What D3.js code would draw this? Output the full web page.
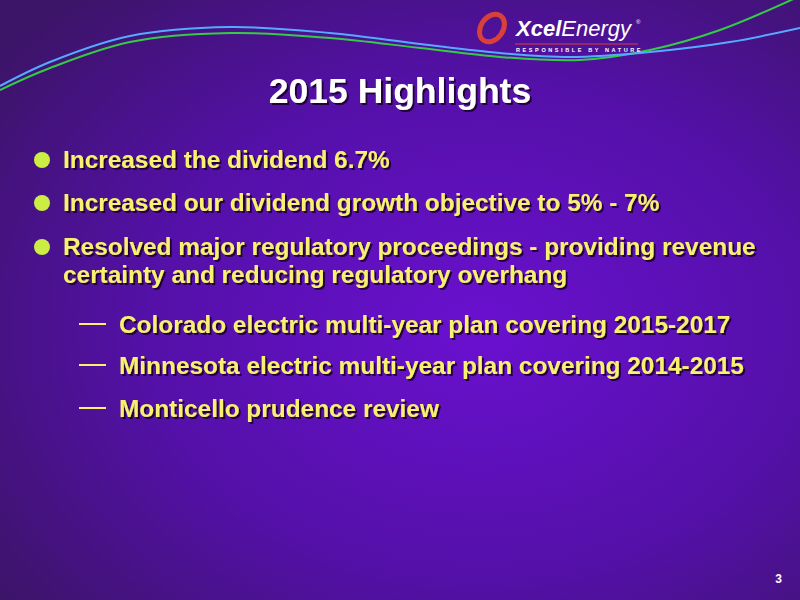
<!DOCTYPE html><html><head><meta charset="utf-8"><script src="https://cdn.jsdelivr.net/npm/d3@7"></script>
<style>body{margin:0}svg{display:block}</style></head><body><script>
const title = "2015 Highlights";
const bullets = ["Increased the dividend 6.7%","Increased our dividend growth objective to 5% - 7%","Resolved major regulatory proceedings - providing revenue","certainty and reducing regulatory overhang"];
const bulletLevel = [1,1,1,0];
const subs = ["Colorado electric multi-year plan covering 2015-2017","Minnesota electric multi-year plan covering 2014-2015","Monticello prudence review"];
const bluePts = [[0,86],[50,62],[130,36],[230,27],[330,33],[420,44],[500,53],[570,57],[650,52],[730,42],[800,28]];
const greenPts = [[0,90],[50,68],[130,42],[230,33],[330,38],[420,48],[500,57],[580,60],[650,50],[720,30],[800,-4]];
const W=800,H=600;
const svg=d3.select("body").append("svg").attr("width",W).attr("height",H);
const defs=svg.append("defs");
const g=defs.append("radialGradient").attr("id","bg").attr("cx","60%").attr("cy","55%").attr("r","75%");
g.append("stop").attr("offset","0%").attr("stop-color","#6a10d0");
g.append("stop").attr("offset","55%").attr("stop-color","#5410a8");
g.append("stop").attr("offset","100%").attr("stop-color","#3c1468");
svg.append("rect").attr("width",W).attr("height",H).attr("fill","url(#bg)");
const f=defs.append("filter").attr("id","sh");
f.append("feDropShadow").attr("dx",2).attr("dy",2).attr("stdDeviation",0.6).attr("flood-color","#1a0530").attr("flood-opacity",0.9);
const x=d3.scaleLinear().domain([0,800]).range([0,W]), y=d3.scaleLinear().domain([0,600]).range([0,H]);
const line=d3.line().x(d=>x(d[0])).y(d=>y(d[1])).curve(d3.curveCatmullRom);
svg.append("path").attr("d",line(greenPts)).attr("fill","none").attr("stroke","#33cc44").attr("stroke-width",2);
svg.append("path").attr("d",line(bluePts)).attr("fill","none").attr("stroke","#55aaff").attr("stroke-width",2);
const lg=svg.append("g");
lg.append("ellipse").attr("cx",492).attr("cy",28).attr("rx",11).attr("ry",15).attr("fill","none").attr("stroke","#d8403a").attr("stroke-width",5).attr("transform","rotate(35,492,28)");
lg.append("text").attr("x",516).attr("y",36).attr("font-family","Liberation Sans").attr("font-weight","bold").attr("font-style","italic").attr("font-size",22).attr("fill","#fff").text("Xcel").append("tspan").attr("font-weight","normal").text("Energy");
lg.append("text").attr("x",636).attr("y",24).attr("font-size",6).attr("fill","#fff").attr("font-family","Liberation Sans").text("®");
lg.append("line").attr("x1",515).attr("x2",638).attr("y1",44).attr("y2",44).attr("stroke","#d8403a").attr("stroke-width",1);
lg.append("text").attr("x",516).attr("y",52).attr("font-family","Liberation Sans").attr("font-weight","bold").attr("font-size",5.5).attr("letter-spacing",2.6).attr("fill","#fff").text("RESPONSIBLE BY NATURE");
svg.append("text").attr("x",400).attr("y",103).attr("text-anchor","middle").attr("font-family","Liberation Sans").attr("font-weight","bold").attr("font-size",35.5).attr("fill","#fff").attr("filter","url(#sh)").text(title);
const tf=(s)=>s.attr("font-family","Liberation Sans").attr("font-weight","bold").attr("font-size",24.4).attr("fill","#f8f070").attr("filter","url(#sh)");
const by=[168,211,255,283];
bullets.forEach((t,i)=>{
 if(bulletLevel[i]) svg.append("circle").attr("cx",42).attr("cy",by[i]-8).attr("r",8).attr("fill","#ccee44");
 tf(svg.append("text").attr("x",63).attr("y",by[i]).text(t));
});
const sy=[333,374,417];
subs.forEach((t,i)=>{
 svg.append("line").attr("x1",79).attr("x2",106).attr("y1",sy[i]-9).attr("y2",sy[i]-9).attr("stroke","#f8f070").attr("stroke-width",2);
 tf(svg.append("text").attr("x",119).attr("y",sy[i]).text(t));
});
svg.append("text").attr("x",782).attr("y",583).attr("text-anchor","end").attr("font-family","Liberation Sans").attr("font-weight","bold").attr("font-size",12).attr("fill","#fff").text("3");
</script></body></html>
